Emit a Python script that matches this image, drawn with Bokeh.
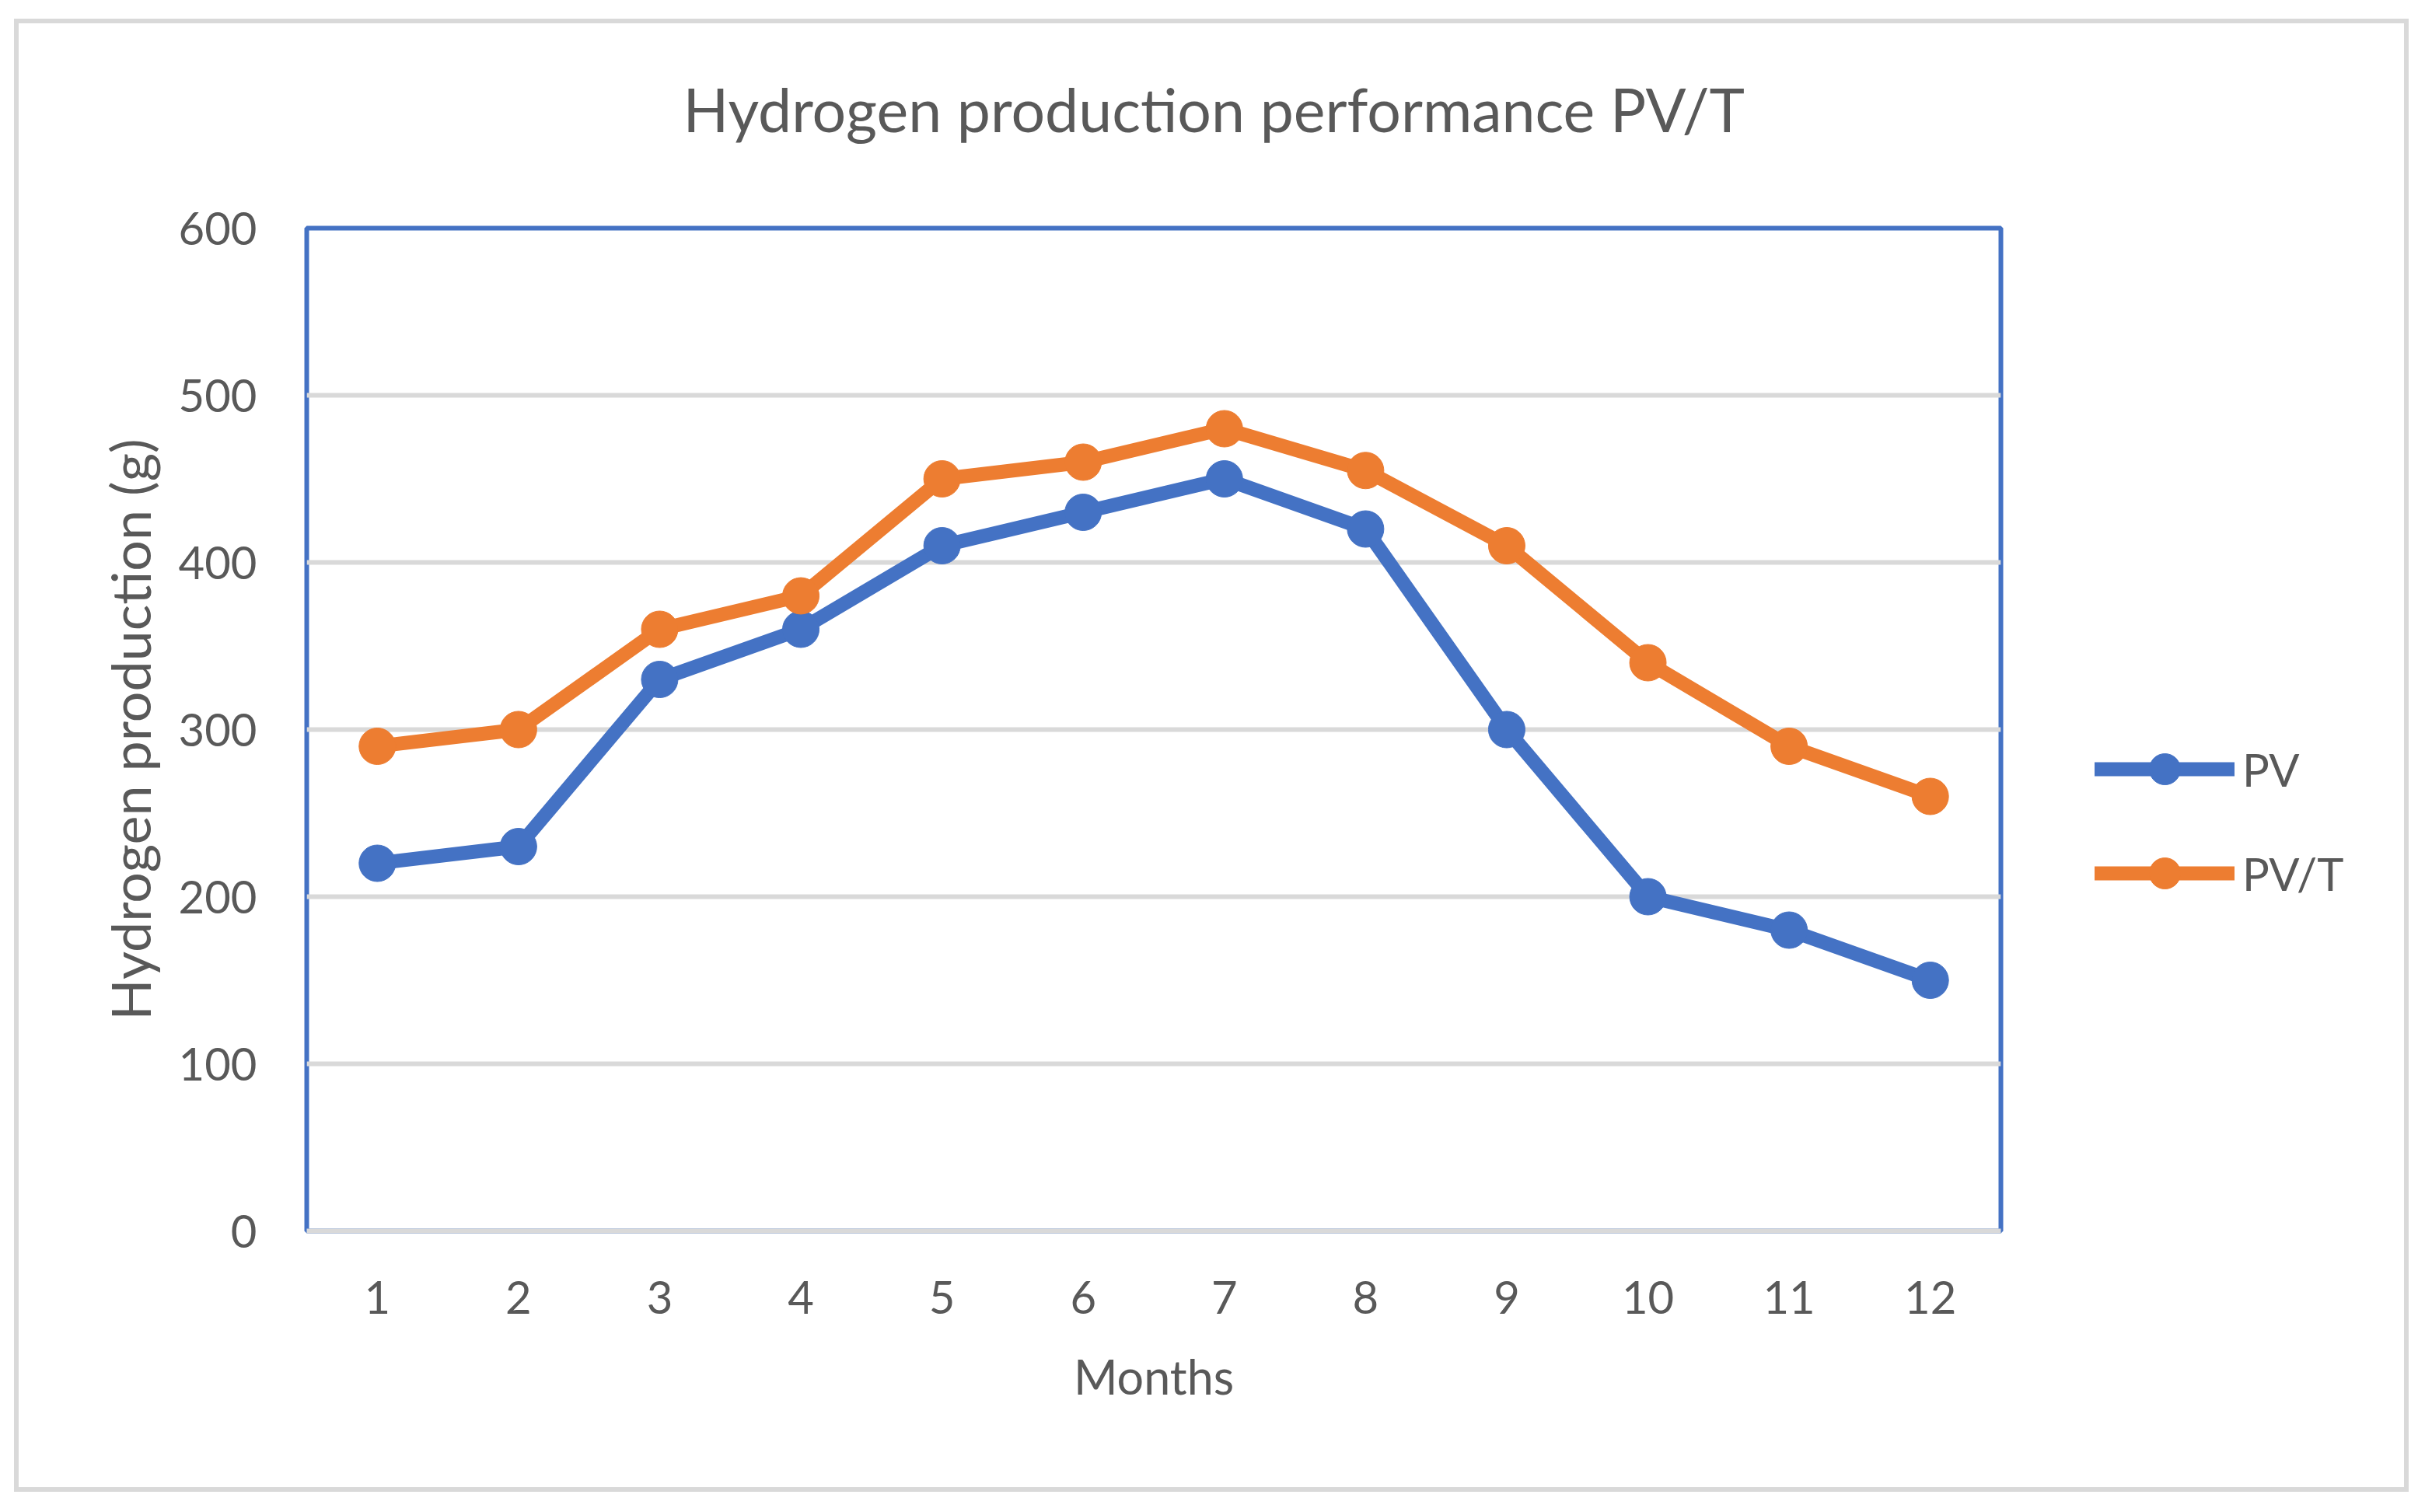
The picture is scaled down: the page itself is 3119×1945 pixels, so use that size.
from bokeh.plotting import figure
from bokeh.models import Range1d, FixedTicker, Legend, LegendItem, Title
from bokeh.layouts import row
from bokeh.embed import file_html
from bokeh.resources import INLINE

# ---- data ----
months = [1, 2, 3, 4, 5, 6, 7, 8, 9, 10, 11, 12]
month_labels = ["1", "2", "3", "4", "5", "6", "7", "8", "9", "10", "11", "12"]
pv = [220, 230, 330, 360, 410, 430, 450, 420, 300, 200, 180, 150]
pvt = [290, 300, 360, 380, 450, 460, 480, 455, 410, 340, 290, 260]
y_ticks = [0, 100, 200, 300, 400, 500, 600]

title_text = "Hydrogen production performance PV/T"
x_title = "Months"
y_title = "Hydrogen production (g)"
series_names = ["PV", "PV/T"]

BLUE = "#4472C4"
ORANGE = "#ED7D31"
TEXT = "#595959"
GRID = "#D9D9D9"
FONT = "Lato"

# ---- main chart ----
p = figure(width=2556, height=1883, output_backend="svg", toolbar_location=None,
           x_range=Range1d(0.5, 12.5), y_range=Range1d(0, 600),
           min_border_left=370, min_border_right=7,
           min_border_top=263, min_border_bottom=330)

p.background_fill_color = "white"
p.border_fill_color = "white"
p.outline_line_color = BLUE
p.outline_line_width = 6

# spacer between plot frame and title (keeps the title high above the frame)
spacer = Title(text=" ", text_font_size="2px", standoff=99)
p.add_layout(spacer, "above")

p.title.text = title_text
p.title.text_font = FONT
p.title.text_font_size = "77px"
p.title.text_font_style = "normal"
p.title.text_color = TEXT
p.title.align = "left"
p.title.offset = 484
p.title.standoff = 10

p.xaxis.ticker = FixedTicker(ticks=months)
p.xaxis.major_label_overrides = {m: l for m, l in zip(months, month_labels)}
p.yaxis.ticker = FixedTicker(ticks=y_ticks)
for ax in (p.xaxis[0], p.yaxis[0]):
    ax.major_tick_in = 0
    ax.major_tick_out = 0
    ax.minor_tick_line_color = None
    ax.major_label_text_font = FONT
    ax.major_label_text_font_size = "58px"
    ax.major_label_text_color = TEXT
    ax.axis_label_text_font = FONT
    ax.axis_label_text_color = TEXT
    ax.axis_label_text_font_style = "normal"
p.yaxis.axis_line_color = None
p.xaxis.axis_line_color = GRID
p.xaxis.axis_line_width = 6
p.yaxis.major_label_standoff = 64
p.xaxis.major_label_standoff = 64
p.xaxis.axis_label = x_title
p.xaxis.axis_label_text_font_size = "61px"
p.xaxis.axis_label_standoff = 41
p.yaxis.axis_label = y_title
p.yaxis.axis_label_text_font_size = "70px"
p.yaxis.axis_label_standoff = 18

p.xgrid.grid_line_color = None
p.ygrid.grid_line_color = GRID
p.ygrid.grid_line_width = 6
p.ygrid.ticker = FixedTicker(ticks=y_ticks)

l1 = p.line(months, pv, line_color=BLUE, line_width=18, line_join="round", line_cap="round")
s1 = p.scatter(months, pv, size=47, fill_color=BLUE, line_color=BLUE)
l2 = p.line(months, pvt, line_color=ORANGE, line_width=18, line_join="round", line_cap="round")
s2 = p.scatter(months, pvt, size=47, fill_color=ORANGE, line_color=ORANGE)

# ---- legend panel (same series styles, drawn only as legend keys) ----
pl = figure(width=512, height=1883, output_backend="svg", toolbar_location=None,
            x_range=Range1d(0, 1), y_range=Range1d(0, 1),
            x_axis_location=None, y_axis_location=None,
            min_border_left=0, min_border_right=0, min_border_top=0, min_border_bottom=0)
pl.grid.visible = False
pl.outline_line_color = None
pl.background_fill_color = "white"
pl.border_fill_color = "white"
kl1 = pl.line([-5, -4], [-5, -4], line_color=BLUE, line_width=18, line_cap="round")
ks1 = pl.scatter([-5], [-5], size=47, fill_color=BLUE, line_color=BLUE)
kl2 = pl.line([-5, -4], [-5, -4], line_color=ORANGE, line_width=18, line_cap="round")
ks2 = pl.scatter([-5], [-5], size=47, fill_color=ORANGE, line_color=ORANGE)

legend = Legend(items=[LegendItem(label=series_names[0], renderers=[kl1, ks1]),
                       LegendItem(label=series_names[1], renderers=[kl2, ks2])],
                location=(114, 410), orientation="vertical",
                border_line_color=None, background_fill_alpha=0,
                padding=0, margin=0, glyph_width=180, glyph_height=100,
                label_height=100, spacing=34, label_standoff=10,
                label_text_font=FONT, label_text_font_size="58px",
                label_text_color=TEXT)
pl.add_layout(legend)

layout = row(p, pl)
layout.margin = (30, 0, 0, 24)
layout.styles = {"outline": "6px solid #D9D9D9"}

open("out.html", "w").write(file_html(layout, INLINE))
